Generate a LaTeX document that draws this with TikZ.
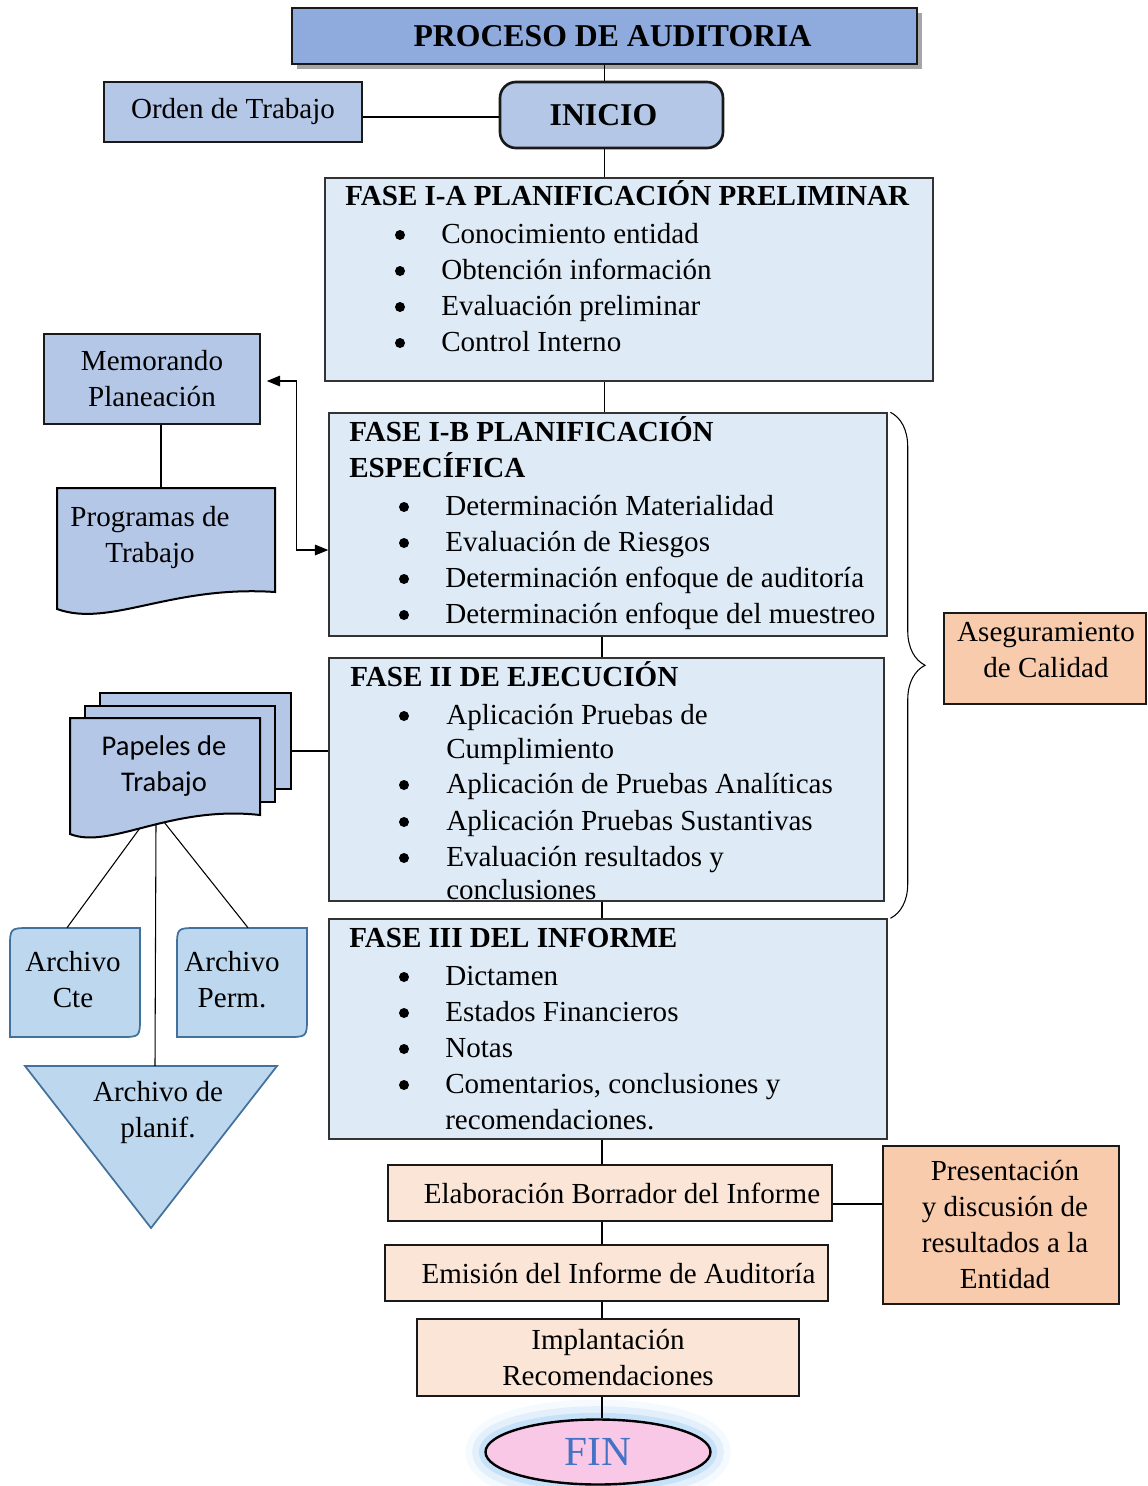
\documentclass[tikz,border=0pt]{standalone}
\usepackage{fontspec}
\setmainfont{Liberation Serif}
\newfontfamily\calibri{Carlito}
\usetikzlibrary{fit,calc,shadows,shapes.geometric,arrows.meta,decorations.pathreplacing}

\definecolor{azulT}{HTML}{8FAADC}
\definecolor{azulM}{HTML}{B4C7E7}
\definecolor{azulF}{HTML}{DEEBF7}
\definecolor{azulA}{HTML}{BDD7EE}
\definecolor{bordeA}{HTML}{41719C}
\definecolor{durazno}{HTML}{FBE5D6}
\definecolor{naranja}{HTML}{F8CBAD}
\definecolor{rosa}{HTML}{F8C8E6}
\definecolor{azulFin}{HTML}{4472C4}
\definecolor{brilloA}{HTML}{9CCBF5}

\tikzset{
  tam/.style 2 args={minimum width=#1*0.75pt, minimum height=#2*0.75pt},
  caja/.style={draw=black!90, line width=1.2pt, inner sep=0pt, align=center},
  fase/.style={draw=black!80, fill=azulF, line width=1.1pt, inner sep=0pt},
  tit/.style={anchor=base west, inner sep=0pt, font=\fontsize{21.8}{27}\selectfont\bfseries},
  item/.style={anchor=base west, inner sep=0pt},
  bala/.style={circle, fill=black, inner sep=0pt, minimum size=7.5pt},
  texto/.style={align=center, inner sep=0pt},
  doc/.style={draw=black, fill=azulM, line width=1.5pt},
  archivo/.style={draw=bordeA, fill=azulA, line width=1.3pt},
  linea/.style={line width=0.8pt},
  brillo/.style={preaction={draw=brilloA, line width=30pt, opacity=.10},
                 preaction={draw=brilloA, line width=20pt, opacity=.20},
                 preaction={draw=brilloA, line width=10pt, opacity=.40}},
}

\begin{document}
\begin{tikzpicture}[x=0.75pt, y=-0.75pt, font=\fontsize{21.8}{27}\selectfont,
    >={Triangle[length=10pt,width=8pt]}]
\useasboundingbox (0,0) rectangle (1147,1486);
\coordinate (eje) at (602,0);

% cabecera
\node[caja, tam={625}{56}, fill=azulT, line width=2pt,
      font=\fontsize{23.8}{28}\selectfont\bfseries,
      drop shadow={shadow xshift=4pt, shadow yshift=-4pt, fill=black, opacity=.35}]
      (titulo) at (604.5,36) {\hspace*{12pt}PROCESO DE AUDITORIA};
\node[caja, tam={223}{66}, fill=azulM, line width=2pt, rounded corners=12pt,
      font=\fontsize{23.8}{28}\selectfont\bfseries] (inicio) at (611.5,115) {INICIO\hspace*{12pt}};
\node[caja, tam={258}{60}, fill=azulM] (orden) at (233,112) {Orden de Trabajo};

% fases
\node[fase, fit={(325,178) (933,381)}] (faseIA) {};
\node[fase, fit={(329,413) (887,636)}] (faseIB) {};
\node[fase, fit={(329,658) (884,901)}] (faseII) {};
\node[fase, fit={(329,919) (887,1139)}] (faseIII) {};

\node[tit] (tIA) at (345,205) {FASE I-A PLANIFICACIÓN PRELIMINAR};
\foreach \y/\t [count=\i] in {234/Conocimiento entidad, 270/Obtención información,
    306/Evaluación preliminar, 342/Control Interno}{
  \node[bala] (bIA\i) at (400,\y+1) {};
  \node[item] (iIA\i) at (441,\y+9) {\t};
}

\node[tit] (tIB1) at (349,441) {FASE I-B PLANIFICACIÓN};
\node[tit] (tIB2) at (349,477) {ESPECÍFICA};
\foreach \y/\t [count=\i] in {506/Determinación Materialidad, 542/Evaluación de Riesgos,
    578/Determinación enfoque de auditoría, 614/Determinación enfoque del muestreo}{
  \node[bala] (bIB\i) at (404,\y+1) {};
  \node[item] (iIB\i) at (445,\y+9) {\t};
}

\node[tit] (tII) at (350,686) {FASE II DE EJECUCIÓN};
\foreach \y/\t [count=\i] in {715/Aplicación Pruebas de, 784/Aplicación de Pruebas Analíticas,
    821/Aplicación Pruebas Sustantivas, 857/Evaluación resultados y}{
  \node[bala] (bII\i) at (404,\y+1) {};
  \node[item] (iII\i) at (446,\y+9) {\t};
}
\node[item] (iII5) at (446,758) {Cumplimiento};
\node[item] (iII6) at (446,899) {conclusiones};

\node[tit] (tIII) at (349,947) {FASE III DEL INFORME};
\foreach \y/\t [count=\i] in {976/Dictamen, 1012/Estados Financieros, 1048/Notas,
    1084/{Comentarios, conclusiones y}}{
  \node[bala] (bIII\i) at (404,\y+1) {};
  \node[item] (iIII\i) at (445,\y+9) {\t};
}
\node[item] (iIII5) at (445,1129) {recomendaciones.};

% informe
\node[caja, tam={444}{56}, fill=durazno] (elab) at (610,1193)
      {\hspace*{18pt}Elaboración Borrador del Informe};
\node[caja, tam={443}{56}, fill=durazno] (emision) at (606.5,1273)
      {\hspace*{18pt}Emisión del Informe de Auditoría};
\node[caja, tam={382}{77}, fill=durazno] (implant) at (608,1357.5) {Implantación\\Recomendaciones};
\node[ellipse, draw, line width=1.8pt, fill=rosa, tam={225}{65}, inner sep=0pt, brillo,
      text=azulFin, font=\fontsize{31}{31}\selectfont] (fin) at (598,1452) {FIN};
\node[caja, tam={236}{158}, fill=naranja] (present) at (1001,1225)
      {\hspace*{6pt}Presentación\\\hspace*{6pt}y discusión de\\\hspace*{6pt}resultados a la\\\hspace*{6pt}Entidad};
\node[caja, fit={(944,613) (1146,704)}, fill=naranja] (asegur) {};
\node[texto] (tasegur) at (1046,650) {Aseguramiento\\de Calidad};

% lado izquierdo
\node[caja, tam={216}{90}, fill=azulM] (memo) at (152,379) {Memorando\\Planeación};
\draw[doc] (57,488) -- (275,488) -- (275,592) .. controls (170,585) and (110,628) .. (57,609) -- cycle;
\node[tam={218}{121}, inner sep=0pt, anchor=north west] (prog) at (57,488) {};
\node[texto] (tprog) at (150,537) {Programas de\\Trabajo};

\draw[doc] (100,693) rectangle (291,789);
\draw[doc] (85,706) rectangle (275,802);
\draw[doc] (70,718) -- (260,718) -- (260,815) .. controls (170,805) and (110,850) .. (70,834) -- cycle;
\node[tam={190}{116}, inner sep=0pt, anchor=north west] (papeles) at (70,718) {};
\node[texto, font=\calibri\fontsize{21.4}{27.5}\selectfont] (tpapeles) at (164,766)
      {Papeles de\\Trabajo};
\coordinate (pilas) at (291,751);
\coordinate (pa1) at (140,828);
\coordinate (pa2) at (156,824);
\coordinate (pa3) at (164,822);

\draw[archivo] (30,928) -- (140,928) -- (140,1017) .. controls (140,1037) .. (120,1037)
      -- (10,1037) -- (10,948) .. controls (10,928) .. (30,928) -- cycle;
\node[tam={130}{109}, inner sep=0pt] (archcte) at (75,982.5) {};
\node[texto] (tcte) at (73,980) {Archivo\\Cte};
\draw[archivo] (197,928) -- (307,928) -- (307,1017) .. controls (307,1037) .. (287,1037)
      -- (177,1037) -- (177,948) .. controls (177,928) .. (197,928) -- cycle;
\node[tam={130}{109}, inner sep=0pt] (archperm) at (242,982.5) {};
\node[texto] (tperm) at (232,980) {Archivo\\Perm.};
\draw[archivo] (25,1066) -- (277,1066) -- (151,1228) -- cycle;
\node[texto] (archplan) at (158,1112) {Archivo de\\planif.};
\coordinate (plantop) at (155,1066);

% conectores
\coordinate (o1) at ($(orden.east)+(0,5)$);
\coordinate (e1) at ($(elab.east)+(0,11)$);
\draw[linea] (titulo.south) -- (titulo.south |- inicio.north);
\draw[linea] (o1) -- (o1 -| inicio.west);
\draw[linea] (titulo.south |- inicio.south) -- (titulo.south |- faseIA.north);
\draw[linea] (titulo.south |- faseIA.south) -- (titulo.south |- faseIB.north);
\draw[linea] (eje |- faseIB.south) -- (eje |- faseII.north);
\draw[linea] (eje |- faseII.south) -- (eje |- faseIII.north);
\draw[linea] (eje |- faseIII.south) -- (eje |- elab.north);
\draw[linea] (eje |- elab.south) -- (eje |- emision.north);
\draw[linea] (eje |- emision.south) -- (eje |- implant.north);
\draw[linea] (eje |- implant.south) -- (eje |- fin.north);
\draw[linea] (e1) -- (e1 -| present.west);
\draw[linea] (memo.south) ++(9,0) coordinate (m) -- (m |- prog.north);
\draw[linea, <->] ($(memo.east)+(6,2)$) -- ($(memo.east)+(36,2)$) |- ($(faseIB.west)+(0,25.5)$);
\draw[linea] (pilas) -- (pilas -| faseII.west);
\draw[linea] (pa1) -- ($(archcte.north)+(-8,0)$);
\draw[linea] (pa2) -- (plantop);
\draw[linea] (pa3) -- ($(archperm.north)+(6,0)$);
\draw[linea, decorate, decoration={brace, amplitude=26pt}]
      ([xshift=2pt]faseIB.north east) -- ([xshift=2pt]faseIII.north east);
\end{tikzpicture}
\end{document}
